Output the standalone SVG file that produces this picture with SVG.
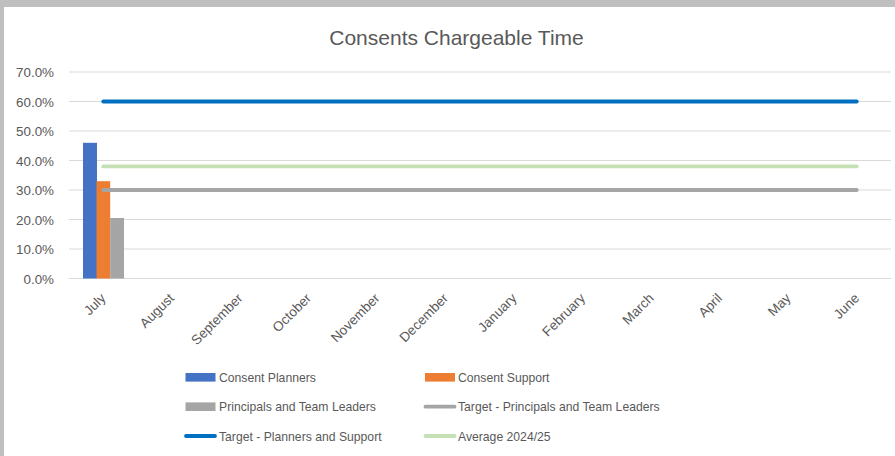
<svg xmlns="http://www.w3.org/2000/svg" width="895" height="456" viewBox="0 0 895 456">
  <style>
    .txt { font-family: "Liberation Sans", Arial, sans-serif; fill: #595959; }
    .title { font-size: 21px; }
    .ylab { font-size: 13.4px; text-anchor: end; }
    .xlab { font-size: 13.5px; text-anchor: end; }
    .leg { font-size: 12.2px; }
    .grid { stroke: #D9D9D9; stroke-width: 1.2; }
    .series { fill: none; stroke-width: 3.8; stroke-linecap: round; }
  </style>
  <rect x="0" y="0" width="895" height="456" fill="#BFBFBF"/>
  <rect x="4" y="7" width="891" height="449" fill="#FFFFFF"/>

  <g id="title">
    <text class="txt title" x="456.5" y="44.5" text-anchor="middle">Consents Chargeable Time</text>
  </g>

  <g id="gridlines">
    <line class="grid" x1="69" y1="72" x2="891" y2="72"/>
    <line class="grid" x1="69" y1="101.5" x2="891" y2="101.5"/>
    <line class="grid" x1="69" y1="131" x2="891" y2="131"/>
    <line class="grid" x1="69" y1="160.5" x2="891" y2="160.5"/>
    <line class="grid" x1="69" y1="190" x2="891" y2="190"/>
    <line class="grid" x1="69" y1="219.5" x2="891" y2="219.5"/>
    <line class="grid" x1="69" y1="249" x2="891" y2="249"/>
    <line class="grid" x1="69" y1="278.5" x2="891" y2="278.5"/>
  </g>

  <g id="y-axis-labels">
    <text class="txt ylab" x="54" y="77">70.0%</text>
    <text class="txt ylab" x="54" y="106.5">60.0%</text>
    <text class="txt ylab" x="54" y="136">50.0%</text>
    <text class="txt ylab" x="54" y="165.5">40.0%</text>
    <text class="txt ylab" x="54" y="195">30.0%</text>
    <text class="txt ylab" x="54" y="224.5">20.0%</text>
    <text class="txt ylab" x="54" y="254">10.0%</text>
    <text class="txt ylab" x="54" y="283.5">0.0%</text>
  </g>

  <g id="x-axis-labels">
    <text class="txt xlab" transform="translate(106.5,299) rotate(-45)">July</text>
    <text class="txt xlab" transform="translate(175,299) rotate(-45)">August</text>
    <text class="txt xlab" transform="translate(243.5,299) rotate(-45)">September</text>
    <text class="txt xlab" transform="translate(312,299) rotate(-45)">October</text>
    <text class="txt xlab" transform="translate(380.5,299) rotate(-45)">November</text>
    <text class="txt xlab" transform="translate(449,299) rotate(-45)">December</text>
    <text class="txt xlab" transform="translate(517.5,299) rotate(-45)">January</text>
    <text class="txt xlab" transform="translate(586,299) rotate(-45)">February</text>
    <text class="txt xlab" transform="translate(654.5,299) rotate(-45)">March</text>
    <text class="txt xlab" transform="translate(723,299) rotate(-45)">April</text>
    <text class="txt xlab" transform="translate(791.5,299) rotate(-45)">May</text>
    <text class="txt xlab" transform="translate(860,299) rotate(-45)">June</text>
  </g>

  <g id="bars">
    <rect id="bar-consent-planners" x="83" y="142.8" width="14" height="135.7" fill="#4472C4"/>
    <rect id="bar-consent-support" x="96.5" y="181.2" width="13.7" height="97.3" fill="#ED7D31"/>
    <rect id="bar-principals" x="110.2" y="218" width="13.8" height="60.5" fill="#A5A5A5"/>
  </g>

  <g id="series-lines">
    <line class="series" x1="103.25" y1="101.5" x2="856.75" y2="101.5" stroke="#0070C0"/>
    <line class="series" x1="103.25" y1="166.4" x2="856.75" y2="166.4" stroke="#C5E0B4"/>
    <line class="series" x1="103.25" y1="190" x2="856.75" y2="190" stroke="#A5A5A5"/>
  </g>

  <g id="legend">
    <g id="legend-consent-planners">
      <rect x="185.5" y="373" width="30" height="8.6" fill="#4472C4"/>
      <text class="txt leg" x="219" y="382">Consent Planners</text>
    </g>
    <g id="legend-consent-support">
      <rect x="425" y="373" width="30" height="8.6" fill="#ED7D31"/>
      <text class="txt leg" x="458" y="382">Consent Support</text>
    </g>
    <g id="legend-principals">
      <rect x="185.5" y="402.4" width="30" height="8.6" fill="#A5A5A5"/>
      <text class="txt leg" x="219" y="411.3">Principals and Team Leaders</text>
    </g>
    <g id="legend-target-principals">
      <line class="series" x1="425.5" y1="406.7" x2="454.5" y2="406.7" stroke="#A5A5A5" stroke-width="3.2"/>
      <text class="txt leg" x="458" y="411.3">Target - Principals and Team Leaders</text>
    </g>
    <g id="legend-target-planners">
      <line class="series" x1="186" y1="436" x2="215" y2="436" stroke="#0070C0" stroke-width="3.2"/>
      <text class="txt leg" x="219" y="440.6">Target - Planners and Support</text>
    </g>
    <g id="legend-average">
      <line class="series" x1="425.5" y1="436" x2="454.5" y2="436" stroke="#C5E0B4" stroke-width="3.2"/>
      <text class="txt leg" x="458" y="440.6">Average 2024/25</text>
    </g>
  </g>
</svg>
